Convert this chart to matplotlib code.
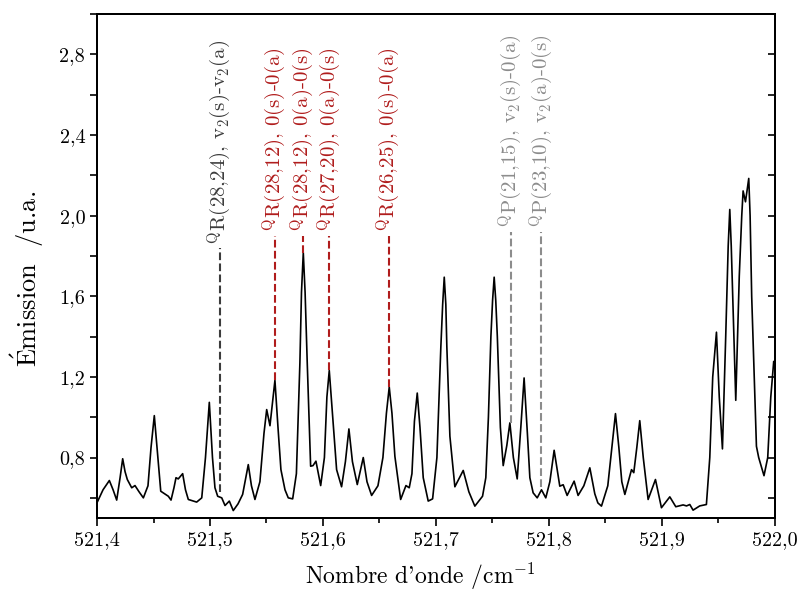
import numpy as np
import matplotlib
matplotlib.use("Agg")
import matplotlib.pyplot as plt
from matplotlib.ticker import MultipleLocator, FuncFormatter

plt.rcParams['font.family'] = ['cmr10', 'DejaVu Serif']
plt.rcParams['mathtext.fontset'] = 'cm'
plt.rcParams['axes.unicode_minus'] = False

# spectrum (wavenumber / cm-1, emission / a.u.)
wavenumber = [
    521.4003, 521.4053, 521.4109, 521.4142, 521.4174, 521.4204, 521.4227, 521.4248,
    521.4268, 521.4307, 521.4336, 521.4372, 521.4410, 521.4451, 521.4478, 521.4507,
    521.4531, 521.4564, 521.4631, 521.4655, 521.4681, 521.4699, 521.4719, 521.4758,
    521.4783, 521.4808, 521.4882, 521.4927, 521.4960, 521.4994, 521.5022, 521.5044,
    521.5068, 521.5104, 521.5133, 521.5171, 521.5206, 521.5248, 521.5289, 521.5339,
    521.5367, 521.5398, 521.5442, 521.5478, 521.5502, 521.5531, 521.5575, 521.5602,
    521.5628, 521.5664, 521.5693, 521.5732, 521.5765, 521.5796, 521.5810, 521.5826,
    521.5842, 521.5861,
    521.5891, 521.5912, 521.5938, 521.5980, 521.6013, 521.6035, 521.6056, 521.6080,
    521.6121, 521.6165, 521.6199, 521.6230, 521.6261, 521.6304, 521.6357, 521.6390,
    521.6431, 521.6487, 521.6531, 521.6562, 521.6587, 521.6611, 521.6637, 521.6688,
    521.6735, 521.6764, 521.6788, 521.6810, 521.6835, 521.6859, 521.6888, 521.6932,
    521.6971, 521.7009, 521.7044, 521.7060, 521.7074, 521.7088, 521.7097, 521.7124,
    521.7168, 521.7242,
    521.7292, 521.7345, 521.7413, 521.7442, 521.7465, 521.7487, 521.7502, 521.7516,
    521.7530, 521.7544,
    521.7571, 521.7596, 521.7628, 521.7655, 521.7686, 521.7720, 521.7752, 521.7781,
    521.7810, 521.7832, 521.7861, 521.7897, 521.7935, 521.7973, 521.8009, 521.8047,
    521.8071, 521.8097, 521.8127, 521.8162, 521.8224, 521.8259, 521.8310, 521.8363,
    521.8407, 521.8434, 521.8466, 521.8522, 521.8558, 521.8590, 521.8620, 521.8646,
    521.8673, 521.8732, 521.8752, 521.8779, 521.8805, 521.8836, 521.8879, 521.8944,
    521.8997, 521.9071, 521.9124, 521.9189, 521.9219, 521.9248, 521.9277, 521.9336,
    521.9395, 521.9425, 521.9451, 521.9484, 521.9509, 521.9537, 521.9566, 521.9588,
    521.9602, 521.9615,
    521.9628, 521.9655, 521.9686, 521.9708, 521.9720, 521.9741, 521.9770, 521.9782,
    521.9796, 521.9838,
    521.9858, 521.9905, 521.9938, 521.9965, 521.9991, 522.0000,
]
emission = [
    0.580, 0.640, 0.686, 0.640, 0.589, 0.700, 0.794, 0.730,
    0.691, 0.650, 0.661, 0.630, 0.600, 0.660, 0.850, 1.008,
    0.850, 0.633, 0.608, 0.589, 0.650, 0.700, 0.694, 0.720,
    0.640, 0.592, 0.579, 0.600, 0.800, 1.074, 0.800, 0.650,
    0.608, 0.600, 0.562, 0.584, 0.537, 0.570, 0.617, 0.765,
    0.660, 0.592, 0.680, 0.920, 1.038, 0.958, 1.183, 0.950,
    0.740, 0.640, 0.600, 0.595, 0.720, 1.270, 1.620, 1.816,
    1.620, 1.270,
    0.757, 0.760, 0.782, 0.661, 0.800, 1.100, 1.232, 1.050,
    0.740, 0.655, 0.780, 0.942, 0.780, 0.666, 0.800, 0.680,
    0.612, 0.660, 0.800, 1.020, 1.150, 1.020, 0.806, 0.592,
    0.661, 0.650, 0.720, 0.980, 1.120, 0.950, 0.700, 0.584,
    0.595, 0.800, 1.350, 1.560, 1.695, 1.560, 1.350, 0.906,
    0.655, 0.736,
    0.630, 0.559, 0.608, 0.700, 1.000, 1.400, 1.580, 1.695,
    1.580, 1.400,
    0.950, 0.760, 0.860, 0.972, 0.800, 0.694, 0.950, 1.195,
    0.920, 0.700, 0.625, 0.600, 0.640, 0.600, 0.680, 0.836,
    0.750, 0.658, 0.665, 0.612, 0.683, 0.612, 0.660, 0.749,
    0.620, 0.575, 0.559, 0.660, 0.850, 1.018, 0.850, 0.680,
    0.617, 0.740, 0.725, 0.850, 0.983, 0.800, 0.592, 0.691,
    0.551, 0.605, 0.556, 0.565, 0.560, 0.567, 0.539, 0.560,
    0.567, 0.800, 1.200, 1.422, 1.100, 0.843, 1.400, 1.850,
    2.031, 1.850,
    1.600, 1.084, 1.700, 2.000, 2.123, 2.069, 2.185, 2.000,
    1.600, 0.856,
    0.800, 0.710, 0.800, 1.100, 1.277, 1.250,
]

# line assignments
line_pos = [521.5089, 521.5575, 521.5826, 521.6057, 521.6584, 521.7661, 521.7935]
line_low = [0.63, 1.186, 1.816, 1.232, 1.150, 0.972, 0.656]
line_labels = [
    r'$^{\mathrm{Q}}$R(28,24), $\mathrm{v}_2$(s)-$\mathrm{v}_2$(a)',
    r'$^{\mathrm{Q}}$R(28,12), 0(s)-0(a)',
    r'$^{\mathrm{Q}}$R(28,12), 0(a)-0(s)',
    r'$^{\mathrm{Q}}$R(27,20), 0(a)-0(s)',
    r'$^{\mathrm{Q}}$R(26,25), 0(s)-0(a)',
    r'$^{\mathrm{Q}}$P(21,15), $\mathrm{v}_2$(s)-0(a)',
    r'$^{\mathrm{Q}}$P(23,10), $\mathrm{v}_2$(a)-0(s)',
]
line_group = ['dark', 'red', 'red', 'red', 'red', 'light', 'light']

group_color = {'dark': '#3c3c3c', 'red': '#b01c1c', 'light': '#8c8c8c'}
group_top = {'dark': 1.84, 'red': 1.90, 'light': 1.92}
group_text = {'dark': 1.86, 'red': 1.925, 'light': 1.945}

fig = plt.figure(figsize=(8.02, 5.91), dpi=100)
ax = fig.add_axes([0.121, 0.1235, 0.845, 0.8525])

ax.plot(wavenumber, emission, color='black', linewidth=1.2)

for x, low, lab, grp in zip(line_pos, line_low, line_labels, line_group):
    c = group_color[grp]
    ax.plot([x, x], [low, group_top[grp]], linestyle='--', color=c, linewidth=1.5)
    ax.text(x, group_text[grp], lab, rotation=90, ha='center', va='bottom',
            color=c, fontsize=15)

ax.set_xlim(521.4, 522.0)
ax.set_ylim(0.5, 3.0)

fmt = FuncFormatter(lambda v, pos: f'{v:.1f}'.replace('.', ','))
ax.xaxis.set_major_locator(MultipleLocator(0.1))
ax.xaxis.set_minor_locator(MultipleLocator(0.05))
ax.yaxis.set_minor_locator(MultipleLocator(0.2))
ax.xaxis.set_major_formatter(fmt)
ax.yaxis.set_major_formatter(fmt)
ax.set_yticks(np.arange(0.8, 2.81, 0.4))

ax.tick_params(which='both', direction='out', width=1.2, labelsize=14.5, top=False, right=False)
ax.tick_params(axis='x', which='major', length=6)
ax.tick_params(axis='x', which='minor', length=3.5)
ax.tick_params(axis='y', which='both', length=5)

# right spine ticks point inward, no labels
ax2 = ax.twinx()
ax2.set_ylim(ax.get_ylim())
ax2.yaxis.set_major_locator(MultipleLocator(0.2))
ax2.tick_params(axis='y', direction='in', length=5, width=1.2, labelright=False)

for a in (ax, ax2):
    for s in a.spines.values():
        s.set_linewidth(1.4)

ax.set_xlabel(r"Nombre d'onde /cm$^{\mathrm{-1}}$", fontsize=17)
ax.set_ylabel(r'$\acute{\mathrm{E}}$mission  /u.a.', fontsize=19)
ax.xaxis.set_label_coords(0.477, -0.085)
ax.yaxis.set_label_coords(-0.076, 0.475)

fig.savefig('out.png', dpi=100)
